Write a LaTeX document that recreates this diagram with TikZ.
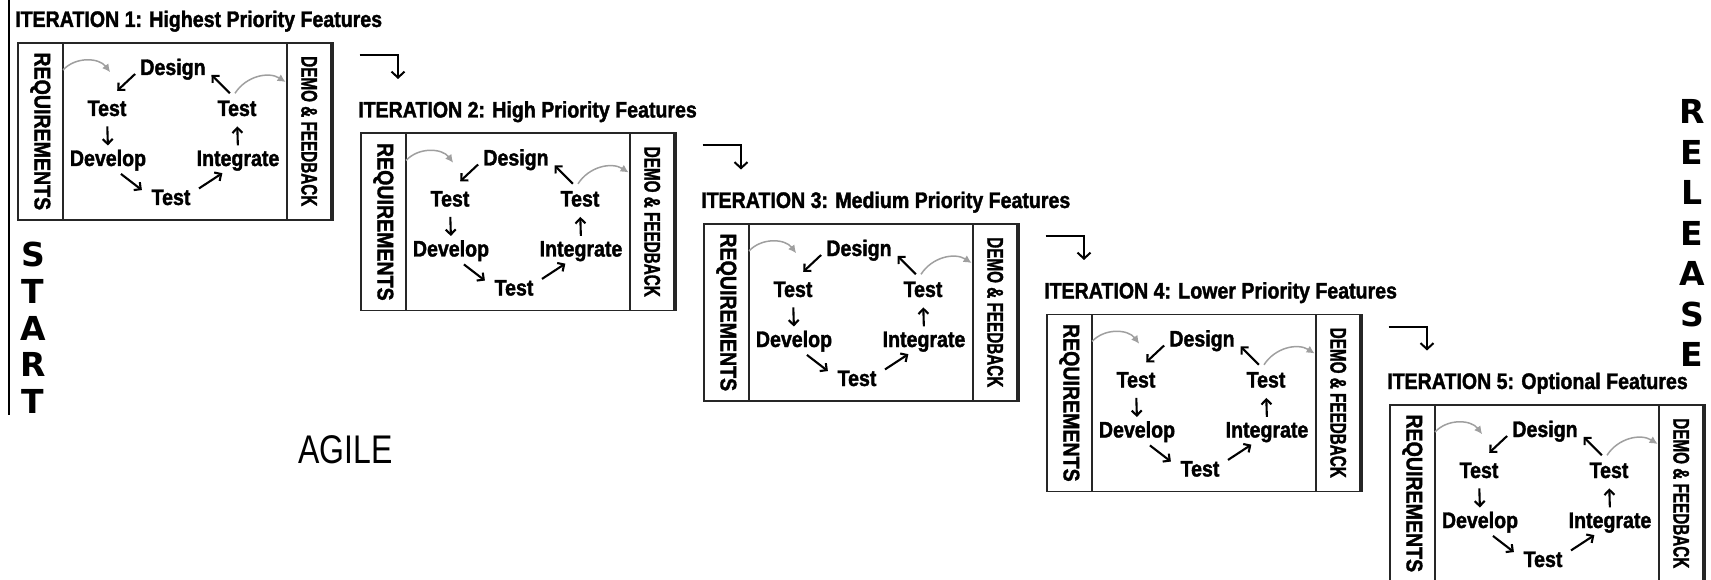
\documentclass[tikz,border=0pt]{standalone}
\usepackage{fontspec}
\setmainfont{Liberation Sans}
\newfontfamily\narrowfont[FakeStretch=0.87,FakeBold=1.6]{Liberation Sans Bold}
\newfontfamily\agilefont[FakeStretch=0.8]{Liberation Sans}
\newfontfamily\bigfont{DejaVu Sans}
\usepackage{graphicx}
\usetikzlibrary{calc,arrows.meta,positioning}
\tikzstyle{stage}=[draw=black!85,line width=1.6pt,minimum width=315pt,minimum height=177pt,inner sep=0pt,anchor=north west]
\tikzstyle{sidecol}=[draw=black!85,line width=1.6pt,rotate=-90,minimum width=177pt,minimum height=45pt,inner sep=0pt,font=\narrowfont\fontsize{22.5}{24}\selectfont]
\tikzstyle{word}=[inner sep=0pt,anchor=base,font=\narrowfont\fontsize{22.5}{24}\selectfont]
\tikzstyle{heading}=[word,anchor=base west]
\tikzstyle{bigletters}=[inner sep=0pt,align=center,font=\bigfont\bfseries\fontsize{33}{40.5}\selectfont]
\tikzstyle{cyc}=[-{Straight Barb[length=5pt,width=10pt]},line width=2.1pt]
\tikzstyle{feedarrow}=[-{Latex[length=8pt,width=8pt]},draw=gray!75,line width=1.5pt]
\tikzstyle{nextarrow}=[-{Straight Barb[length=6pt,width=13pt]},line width=2pt]

\begin{document}
\begin{tikzpicture}[x=1pt,y=-1pt]
  \useasboundingbox (0,0) rectangle (1711,580);

  \foreach \i/\goal in {1/Highest Priority Features,2/High Priority Features,3/Medium Priority Features,4/Lower Priority Features,5/Optional Features}{
    \pgfmathsetmacro{\X}{17+343*(\i-1)}
    \pgfmathsetmacro{\Y}{42+90.5*(\i-1)}
    \begin{scope}[shift={(\X,\Y)}]
      \node[heading] (title\i) at (-2,-15) {ITERATION \i: \goal};
      \node[stage] (box\i) at (0,0) {};
      \node[sidecol,anchor=south west] (req\i) at (0,0) {REQUIREMENTS};
      \node[sidecol,anchor=north west,minimum height=44pt] (demo\i) at (315,0) {\scalebox{0.78}[1]{DEMO \& FEEDBACK}};
      \node[word] (design\i) at (156,33) {Design};
      \node[word] (tl\i) at (90,74) {Test};
      \node[word] (dev\i) at (91,124) {Develop};
      \node[word] (tb\i) at (154,163) {Test};
      \node[word] (integ\i) at (221,124) {Integrate};
      \node[word] (tr\i) at (220,74) {Test};
    \end{scope}
    \draw[cyc,shorten <=7pt,shorten >=14pt] (design\i.west) -- (tl\i.north);
    \draw[cyc,shorten <=10pt,shorten >=4pt] (tl\i.south) -- (dev\i.north);
    \draw[cyc,shorten <=5pt,shorten >=12pt] (dev\i.-50) -- (tb\i.west);
    \draw[cyc,shorten <=10pt,shorten >=4pt] (tb\i.10) -- (integ\i.-140);
    \draw[cyc,shorten <=5pt,shorten >=10pt] (integ\i.north) -- (tr\i.south);
    \draw[cyc,shorten <=10pt,shorten >=8pt] (tr\i.north) -- (design\i.east);
    \draw[feedarrow] ($(box\i.north west)+(46,28)$) to[bend left=50] ($(design\i.west)+(-30,3)$);
    \draw[feedarrow] ($(tr\i.north)+(-2,-7)$) to[bend left=45] ($(box\i.north east)+(-48,40)$);
  }

  \foreach \i/\j in {1/2,2/3,3/4,4/5}
    \draw[nextarrow] ($(box\i.north east)+(26,13)$) -| ($(title\j.north west)+(40,-22)$);

  \draw[line width=2pt] (8.5,0) -- (8.5,415);
  \node[bigletters,font=\bigfont\bfseries\fontsize{33}{36.7}\selectfont] (start) at (33,328) {S\\T\\A\\R\\T};
  \node[bigletters] (release) at (1692,233) {R\\E\\L\\E\\A\\S\\E};
  \node[inner sep=0pt,anchor=north west,font=\agilefont\fontsize{40}{42}\selectfont] (agile) at (298,435) {AGILE};
\end{tikzpicture}
\end{document}
